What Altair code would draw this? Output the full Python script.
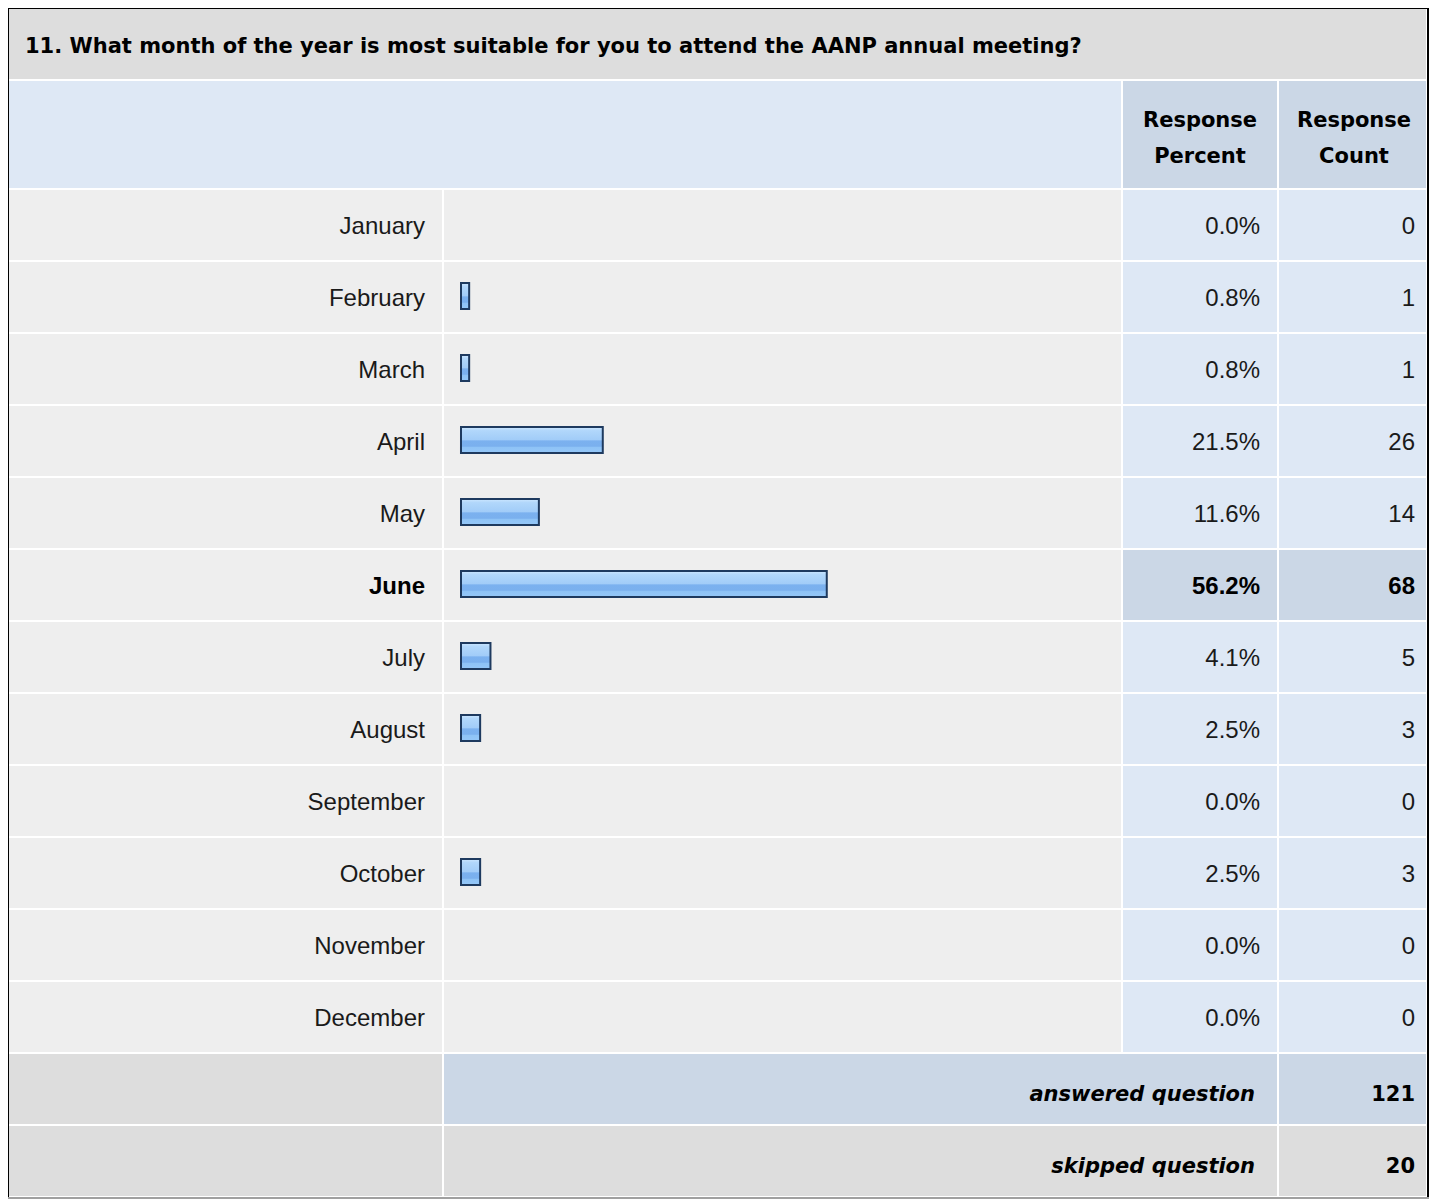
import altair as alt
import pandas as pd

# ---------------- data ----------------
months = ["January", "February", "March", "April", "May", "June",
          "July", "August", "September", "October", "November", "December"]
percents = [0.0, 0.8, 0.8, 21.5, 11.6, 56.2, 4.1, 2.5, 0.0, 2.5, 0.0, 0.0]
counts = [0, 1, 1, 26, 14, 68, 5, 3, 0, 3, 0, 0]
summary_labels = ["answered question", "skipped question"]
summary_values = [121, 20]
title_text = "11. What month of the year is most suitable for you to attend the AANP annual meeting?"
header_percent = ["Response", "Percent"]
header_count = ["Response", "Count"]

# ---------------- styling ----------------
REG = "Liberation Sans"
WIDE = "DejaVu Sans"
TXT = "#1a1a1a"
GRAY = "#DDDDDD"
ROWBG = "#EEEEEE"
LIGHT = "#DEE8F5"
DARK = "#CBD7E6"

df = pd.DataFrame({"row": months, "pct": percents, "count": counts})
df["is_max"] = df["count"] == df["count"].max()
df["pct_text"] = df["pct"].map(lambda v: f"{v:.1f}%")
df["count_text"] = df["count"].astype(str)
df["num_fill"] = df["is_max"].map(lambda m: DARK if m else LIGHT)
df["base"] = 0.0

sdf = pd.DataFrame({"row": summary_labels, "value": [str(v) for v in summary_values]})
sdf["mid_fill"] = [DARK, GRAY]
sdf["cnt_fill"] = [DARK, GRAY]

row_order = months + summary_labels
Y = alt.Y("row:N", axis=None,
          scale=alt.Scale(domain=row_order, range=[182, 1188],
                          paddingInner=2 / 72, paddingOuter=0))


def const_rect(x, x2, y, y2, color):
    return alt.Chart(alt.Data(values=[{}])).mark_rect(color=color).encode(
        x=alt.value(x), x2=alt.value(x2), y=alt.value(y), y2=alt.value(y2))


def text_at(t, x, y, align="left", font=REG, size=24, weight="normal", style="normal"):
    return alt.Chart(alt.Data(values=[{"t": t}])).mark_text(
        align=align, baseline="alphabetic", font=font, fontSize=size,
        fontWeight=weight, fontStyle=style, color="#000").encode(
        text="t:N", x=alt.value(x), y=alt.value(y))


grad = alt.LinearGradient(
    gradient="linear", x1=0, x2=0, y1=0, y2=1,
    stops=[alt.GradientStop(color="#CDE7FF", offset=0.0),
           alt.GradientStop(color="#B1D7FB", offset=0.14),
           alt.GradientStop(color="#A1CCF8", offset=0.5),
           alt.GradientStop(color="#7BB1EF", offset=0.53),
           alt.GradientStop(color="#7AB0EE", offset=0.74),
           alt.GradientStop(color="#8EC3F6", offset=0.78),
           alt.GradientStop(color="#95C7F8", offset=1.0)])

RIGHT = 1418  # right edge of the count column (chart px)

layers = [
    # outer frame
    const_rect(0, 1421, 0, 1, "#000"),
    const_rect(0, 1, 0, 1191, "#000"),
    const_rect(1419, 1421, 0, 1191, "#000"),
    const_rect(0, 1421, 1189, 1191, "#A0A0A0"),
    # title + header
    const_rect(1, RIGHT, 1, 71, GRAY),
    const_rect(1, 1113, 73, 180, LIGHT),
    const_rect(1115, 1269, 73, 180, DARK),
    const_rect(1271, RIGHT, 73, 180, DARK),
    # month row cells
    alt.Chart(df).mark_rect(x=1, x2=434, color=ROWBG).encode(y=Y),
    alt.Chart(df).mark_rect(x=436, x2=1113, color=ROWBG).encode(y=Y),
    alt.Chart(df).mark_rect(x=1115, x2=1269).encode(
        y=Y, color=alt.Color("num_fill:N", scale=None)),
    alt.Chart(df).mark_rect(x=1271, x2=RIGHT).encode(
        y=Y, color=alt.Color("num_fill:N", scale=None)),
    # summary row cells
    alt.Chart(sdf).mark_rect(x=1, x2=434, color=GRAY).encode(y=Y),
    alt.Chart(sdf).mark_rect(x=436, x2=1269).encode(
        y=Y, color=alt.Color("mid_fill:N", scale=None)),
    alt.Chart(sdf).mark_rect(x=1271, x2=RIGHT).encode(
        y=Y, color=alt.Color("cnt_fill:N", scale=None)),
    # bars
    alt.Chart(df).transform_filter("datum.pct > 0").mark_bar(
        fill=grad, stroke="#1E3A5F", strokeWidth=2, size=26, yOffset=-1, x2Offset=3
    ).encode(
        x=alt.X("base:Q", axis=None, scale=alt.Scale(domain=[0, 100], range=[453, 1098.5])),
        x2="pct:Q", y=Y),
    # month labels
    alt.Chart(df).transform_filter("!datum.is_max").mark_text(
        x=417, align="right", baseline="alphabetic", dy=8.5, font=REG, fontSize=24, color=TXT
    ).encode(y=Y, text="row:N"),
    alt.Chart(df).transform_filter("datum.is_max").mark_text(
        x=417, align="right", baseline="alphabetic", dy=8.5, font=REG, fontSize=24,
        fontWeight="bold", color="#000"
    ).encode(y=Y, text="row:N"),
    # percent
    alt.Chart(df).transform_filter("!datum.is_max").mark_text(
        x=1252, align="right", baseline="alphabetic", dy=8.5, font=REG, fontSize=24, color=TXT
    ).encode(y=Y, text="pct_text:N"),
    alt.Chart(df).transform_filter("datum.is_max").mark_text(
        x=1252, align="right", baseline="alphabetic", dy=8.5, font=REG, fontSize=24,
        fontWeight="bold", color="#000"
    ).encode(y=Y, text="pct_text:N"),
    # count
    alt.Chart(df).transform_filter("!datum.is_max").mark_text(
        x=1407, align="right", baseline="alphabetic", dy=8.5, font=REG, fontSize=24, color=TXT
    ).encode(y=Y, text="count_text:N"),
    alt.Chart(df).transform_filter("datum.is_max").mark_text(
        x=1407, align="right", baseline="alphabetic", dy=8.5, font=REG, fontSize=24,
        fontWeight="bold", color="#000"
    ).encode(y=Y, text="count_text:N"),
    # summary texts
    alt.Chart(sdf).mark_text(
        x=1247, align="right", baseline="alphabetic", dy=11.5, font=WIDE, fontSize=21,
        fontWeight="bold", fontStyle="italic", color="#000"
    ).encode(y=Y, text="row:N"),
    alt.Chart(sdf).mark_text(
        x=1407, align="right", baseline="alphabetic", dy=11.5, font=WIDE, fontSize=21,
        fontWeight="bold", color="#000"
    ).encode(y=Y, text="value:N"),
    # title + headers
    text_at(title_text, 17, 45, font=WIDE, size=21, weight="bold"),
    text_at(header_percent[0], 1192, 119, align="center", font=WIDE, size=21, weight="bold"),
    text_at(header_percent[1], 1192, 155, align="center", font=WIDE, size=21, weight="bold"),
    text_at(header_count[0], 1346, 119, align="center", font=WIDE, size=21, weight="bold"),
    text_at(header_count[1], 1346, 155, align="center", font=WIDE, size=21, weight="bold"),
]

chart = alt.layer(*layers).properties(
    width=1421, height=1191, padding=0,
    autosize=alt.AutoSizeParams(type="none"),
    background="white",
).configure_view(stroke=None)

chart.save("out.html", embed_options={"renderer": "svg", "actions": False})
